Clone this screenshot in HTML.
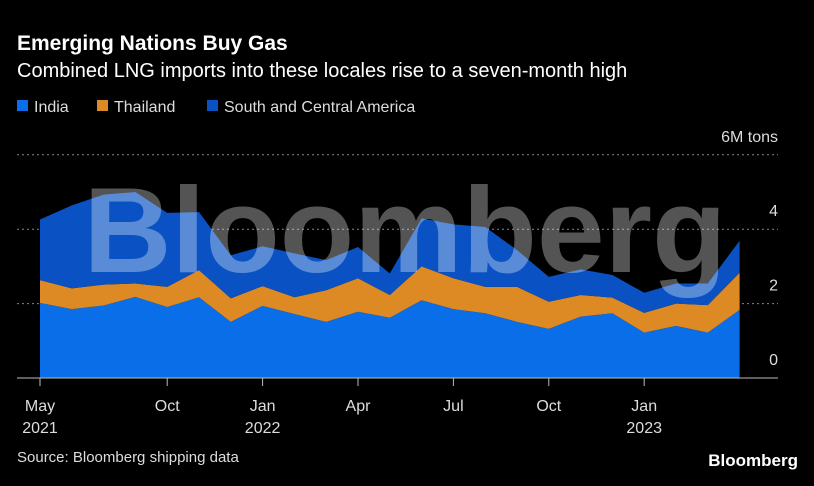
<!DOCTYPE html>
<html><head><meta charset="utf-8"><style>
html,body{margin:0;padding:0;background:#000;}
body{width:814px;height:481px;overflow:hidden;font-family:"Liberation Sans",sans-serif;}
</style></head><body>
<svg width="814" height="481" xmlns="http://www.w3.org/2000/svg" style="font-family:'Liberation Sans',sans-serif">
<text x="17" y="50" fill="#fff" font-size="21" font-weight="bold">Emerging Nations Buy Gas</text>
<text x="17" y="77" fill="#fff" font-size="20">Combined LNG imports into these locales rise to a seven-month high</text>
<g font-size="16" fill="#ddd">
<rect x="17" y="100" width="11" height="11" fill="#0a6ee8"/>
<text x="34" y="112">India</text>
<rect x="97" y="100" width="11" height="11" fill="#de8a24"/>
<text x="114" y="112">Thailand</text>
<rect x="207" y="100" width="11" height="11" fill="#0a52c4"/>
<text x="224" y="112">South and Central America</text>
</g>
<g id="grid"></g>
<g id="areas"></g>
<text x="405" y="272" fill="#ffffff" fill-opacity="0.33" font-size="122" font-weight="bold" text-anchor="middle" textLength="643" lengthAdjust="spacingAndGlyphs">Bloomberg</text>
<g id="axes"></g>
<text x="17" y="462" fill="#ddd" font-size="15">Source: Bloomberg shipping data</text>
<text x="798" y="466" fill="#fff" font-size="17" font-weight="bold" text-anchor="end">Bloomberg</text>
</svg>
<script>
const months = ["2021-06","2021-07","2021-08","2021-09","2021-10","2021-11","2021-12","2022-01","2022-02","2022-03","2022-04","2022-05","2022-06","2022-07","2022-08","2022-09","2022-10","2022-11","2022-12","2023-01","2023-02","2023-03","2023-04"];
const india = [2.02,1.85,1.95,2.18,1.91,2.17,1.51,1.94,1.72,1.51,1.78,1.62,2.09,1.85,1.74,1.51,1.32,1.65,1.74,1.22,1.40,1.22,1.83];
const thailand = [0.61,0.56,0.56,0.36,0.54,0.73,0.63,0.53,0.45,0.85,0.90,0.61,0.91,0.83,0.71,0.94,0.73,0.58,0.42,0.53,0.60,0.74,1.00];
const southCentralAmerica = [1.63,2.23,2.42,2.46,1.99,1.56,1.16,1.07,1.18,0.81,0.84,0.58,1.29,1.45,1.61,0.99,0.67,0.69,0.61,0.54,0.54,0.58,0.86];
const yTicks = [0,2,4,6];
const yTickLabels = ["0","2","4","6M tons"];
const xTickIdx = [0,4,7,10,13,16,19];
const xTickLabels = [["May","2021"],["Oct",""],["Jan","2022"],["Apr",""],["Jul",""],["Oct",""],["Jan","2023"]];

const NS="http://www.w3.org/2000/svg";
const x0=40, dx=31.8, yBase=378, pxPerUnit=37.2;
const xs=i=>x0+i*dx;
const ys=v=>yBase-v*pxPerUnit;
function mk(tag,attrs,parent){const e=document.createElementNS(NS,tag);for(const k in attrs)e.setAttribute(k,attrs[k]);parent.appendChild(e);return e;}
const grid=document.getElementById('grid'),areas=document.getElementById('areas'),axes=document.getElementById('axes');
yTicks.forEach((t,k)=>{
  if(t>0){const l=mk('line',{x1:17,x2:778,y1:ys(t),y2:ys(t),stroke:'#888','stroke-dasharray':'2,3','stroke-width':1},grid);
  
  }
  const tx=mk('text',{x:778,y:ys(t)-13,fill:'#ddd','font-size':16,'text-anchor':'end'},axes);
  tx.textContent=yTickLabels[k];
  
  
});
const series=[{d:india,c:'#0a6ee8',n:'india'},{d:thailand,c:'#de8a24',n:'thailand'},{d:southCentralAmerica,c:'#0a52c4',n:'south-central-america'}];
let base=months.map(()=>0);
series.forEach(s=>{
  const top=base.map((b,i)=>b+s.d[i]);
  let p='M'+top.map((v,i)=>xs(i)+','+ys(v)).join('L');
  for(let i=months.length-1;i>=0;i--)p+='L'+xs(i)+','+ys(base[i]);
  const a=mk('path',{d:p+'Z',fill:s.c},areas);
  
  
  base=top;
});
const ax=mk('line',{x1:17,x2:778,y1:yBase,y2:yBase,stroke:'#bbb','stroke-width':1},axes);


xTickIdx.forEach((i,k)=>{
  const t=mk('line',{x1:xs(i),x2:xs(i),y1:yBase,y2:yBase+8,stroke:'#bbb'},axes);
  
  
  const tx=mk('text',{x:xs(i),y:411,fill:'#ddd','font-size':16,'text-anchor':'middle'},axes);
  tx.textContent=xTickLabels[k][0];
  
  
  if(xTickLabels[k][1]){const ty=mk('text',{x:xs(i),y:433,fill:'#ddd','font-size':16,'text-anchor':'middle'},axes);
  ty.textContent=xTickLabels[k][1];
  
  }
});
</script>
</body></html>
